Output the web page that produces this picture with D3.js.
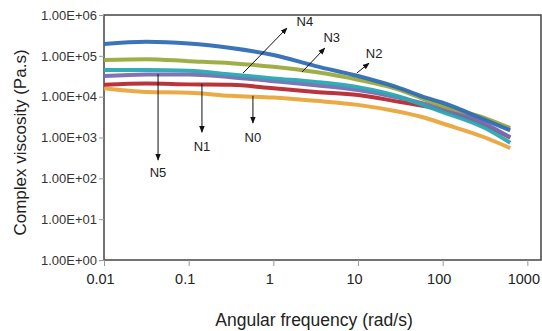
<!DOCTYPE html>
<html>
<head>
<meta charset="utf-8">
<script src="https://cdn.jsdelivr.net/npm/d3@7"></script>
<style>
  body { margin: 0; background: #fff; }
  svg { display: block; font-family: "Liberation Sans", Arial, sans-serif; }
</style>
</head>
<body>
<svg></svg>
<script>
// Values (complex viscosity vs angular frequency)
const frequencies = [0.01, 0.0316, 0.1, 0.316, 1, 3.16, 10, 31.6, 63, 100, 316, 628];

const n0 = [1.6e4, 1.3e4, 1.25e4, 1.05e4, 9.5e3, 7.9e3, 6.3e3, 4.2e3, 3.0e3, 2.2e3, 1.0e3, 550];
const n1 = [1.95e4, 2.1e4, 2.0e4, 1.95e4, 1.6e4, 1.3e4, 1.1e4, 7.4e3, 5.8e3, 4.7e3, 2.0e3, 1.0e3];
const n5 = [3.2e4, 3.5e4, 3.5e4, 3.0e4, 2.4e4, 1.9e4, 1.45e4, 9.3e3, 6.6e3, 5.2e3, 2.2e3, 1.0e3];
const n4 = [4.5e4, 4.5e4, 4.3e4, 3.5e4, 2.8e4, 2.3e4, 1.7e4, 9.8e3, 5.9e3, 4.2e3, 1.7e3, 740];
const n3 = [7.9e4, 8.3e4, 7.4e4, 6.6e4, 5.4e4, 4.0e4, 2.6e4, 1.45e4, 8.3e3, 5.9e3, 3.0e3, 1.7e3];
const n2 = [1.95e5, 2.2e5, 2.0e5, 1.55e5, 1.05e5, 5.6e4, 3.2e4, 1.6e4, 9.5e3, 7.1e3, 2.7e3, 1.5e3];

const seriesNames = ["N0", "N1", "N5", "N4", "N3", "N2"];
const seriesValues = [n0, n1, n5, n4, n3, n2];
const seriesColors = ["#e9a53c", "#b62a30", "#7b6bb0", "#2ba6b4", "#9aaa3c", "#2f6db5"];

const yTicks = [1, 10, 100, 1e3, 1e4, 1e5, 1e6];
const xTicks = [0.01, 0.1, 1, 10, 100, 1000];

// annotation arrows: [label, startFreq, startVal, endFreq, endVal, labelFreq, labelVal]
const annotations = [
    ["N4", 0.44, 3.8e4, 1.45, 4.8e5, 2.36, 6.8e5],
    ["N3", 2.18, 4.0e4, 4.06, 1.55e5, 4.9, 2.9e5],
    ["N2", 9.7, 3.8e4, 13.5, 6.6e4, 15.5, 1.17e5],
    ["N5", 0.0435, 3.6e4, 0.0435, 280, 0.0435, 143],
    ["N1", 0.1435, 2.05e4, 0.1435, 1350, 0.1435, 590],
    ["N0", 0.574, 1.05e4, 0.574, 2260, 0.574, 1020]
];

function main() {
    const canvasWidth = 542;
    const canvasHeight = 331;
    const marginLeft = 104;
    const marginRight = 1;
    const marginTop = 15;
    const marginBot = 71;

    const svg = d3.select("svg")
        .attr("width", canvasWidth)
        .attr("height", canvasHeight);

    const xScale = d3.scaleLog()
        .domain([0.01, 1450])
        .range([marginLeft, canvasWidth - marginRight]);
    const yScale = d3.scaleLog()
        .domain([1, 1e6])
        .range([canvasHeight - marginBot, marginTop]);

    // arrow head
    svg.append("defs").append("marker")
        .attr("id", "head")
        .attr("viewBox", "0 0 10 10")
        .attr("refX", 9).attr("refY", 5)
        .attr("markerWidth", 7).attr("markerHeight", 7)
        .attr("orient", "auto")
        .append("path")
        .attr("d", "M0,1 L10,5 L0,9 Z")
        .attr("fill", "#111");

    // frame
    svg.append("rect")
        .attr("x", marginLeft)
        .attr("y", marginTop)
        .attr("width", canvasWidth - marginRight - marginLeft)
        .attr("height", canvasHeight - marginBot - marginTop)
        .attr("fill", "none")
        .attr("stroke", "#444")
        .attr("stroke-width", 1.5);

    // X axis
    const xAxis = svg.append("g")
        .attr("transform", `translate(0, ${canvasHeight - marginBot})`)
        .call(d3.axisBottom(xScale).tickValues(xTicks).tickFormat(d3.format("")).tickSize(6).tickPadding(8));
    xAxis.select(".domain").remove();
    xAxis.selectAll("line").attr("stroke", "#999");
    xAxis.selectAll("text").attr("font-size", 14.5).attr("fill", "#222")
        .attr("dx", -4)
        .attr("font-family", "Liberation Sans, Arial, sans-serif");

    // Y axis
    const yAxis = svg.append("g")
        .attr("transform", `translate(${marginLeft}, 0)`)
        .call(d3.axisLeft(yScale).tickValues(yTicks)
            .tickFormat(d => "1.00E+" + String(Math.round(Math.log10(d))).padStart(2, "0"))
            .tickSize(5).tickPadding(2));
    yAxis.select(".domain").remove();
    yAxis.selectAll("line").attr("stroke", "#999");
    yAxis.selectAll("text").attr("font-size", 13).attr("fill", "#333")
        .attr("font-family", "Liberation Sans, Arial, sans-serif");

    // lines
    const line = d3.line()
        .x((d, i) => xScale(frequencies[i]))
        .y(d => yScale(d))
        .curve(d3.curveMonotoneX);

    svg.append("g").selectAll("path")
        .data(seriesValues)
        .join("path")
        .attr("fill", "none")
        .attr("stroke", (d, i) => seriesColors[i])
        .attr("stroke-width", 4)
        .attr("stroke-linecap", "butt")
        .attr("opacity", 0.95)
        .attr("d", line);

    // annotations
    const ann = svg.append("g");
    ann.selectAll("line")
        .data(annotations)
        .join("line")
        .attr("x1", d => xScale(d[1]))
        .attr("y1", d => yScale(d[2]))
        .attr("x2", d => xScale(d[3]))
        .attr("y2", d => yScale(d[4]))
        .attr("stroke", "#111")
        .attr("stroke-width", 1)
        .attr("marker-end", "url(#head)");
    ann.selectAll("text")
        .data(annotations)
        .join("text")
        .text(d => d[0])
        .attr("x", d => xScale(d[5]))
        .attr("y", d => yScale(d[6]))
        .attr("dy", "0.35em")
        .attr("font-size", 13)
        .attr("fill", "#222")
        .style("text-anchor", "middle");

    // X axis title
    svg.append("text")
        .text("Angular frequency (rad/s)")
        .attr("x", 314)
        .attr("y", 326)
        .attr("font-size", 17.5)
        .attr("fill", "#222")
        .style("text-anchor", "middle");

    // Y axis title
    svg.append("text")
        .text("Complex viscosity (Pa.s)")
        .attr("font-size", 17)
        .attr("fill", "#222")
        .attr("transform", `translate(26, ${(marginTop + canvasHeight - marginBot) / 2 + 5}) rotate(-90)`)
        .style("text-anchor", "middle");
}

main();
</script>
</body>
</html>
